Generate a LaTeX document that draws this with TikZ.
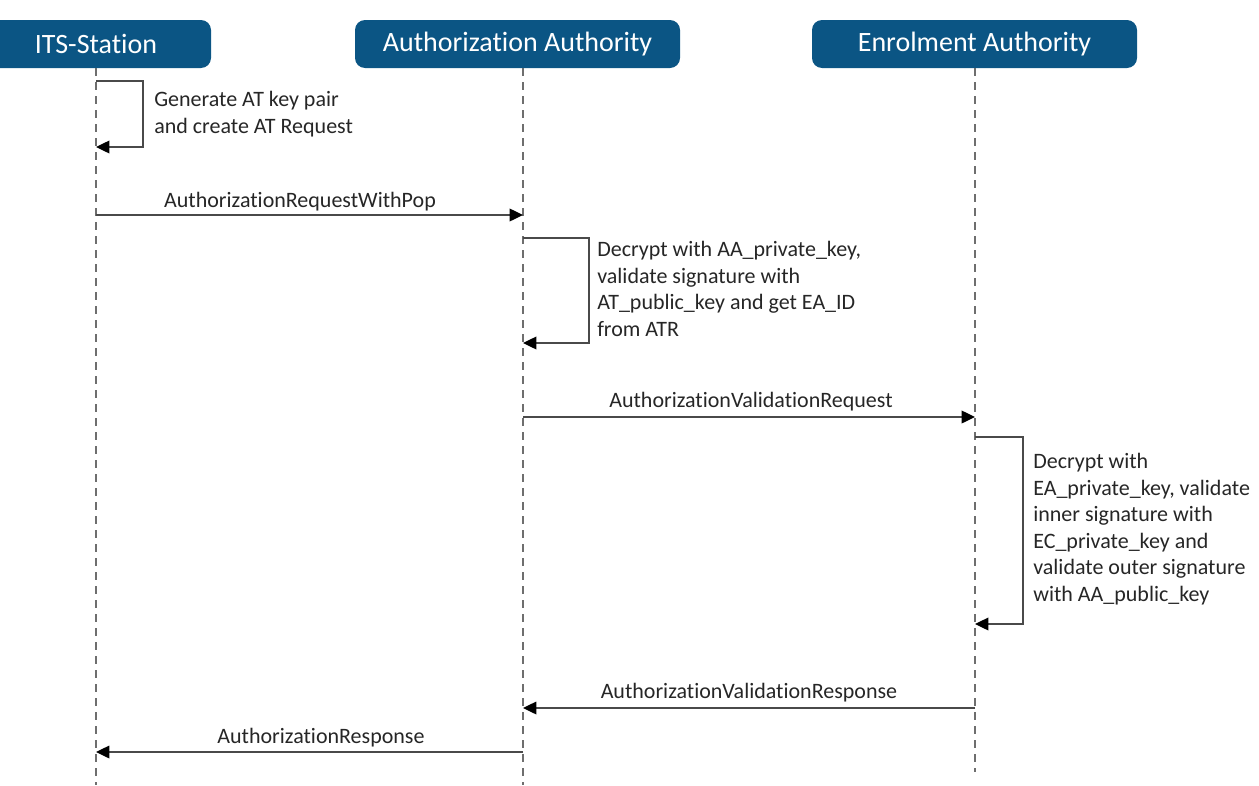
\documentclass[tikz,border=0pt]{standalone}
\usepackage{fontspec}
\setmainfont{Carlito}[Ligatures=NoCommon]
\usetikzlibrary{arrows.meta}
\definecolor{hdrblue}{HTML}{0B5584}
\definecolor{txt}{HTML}{262626}
\definecolor{lifegray}{HTML}{6E6E6E}
\definecolor{msgcol}{HTML}{4A4A4A}
\tikzset{
  header/.style={fill=hdrblue, rounded corners=7.5pt, text=white, minimum height=36pt,
    inner sep=0pt, font=\fontsize{21}{25}\selectfont},
  lifeline/.style={draw=lifegray, line width=1.2pt, dash pattern=on 6pt off 4.5pt},
  msg/.style={draw=msgcol, line width=1pt, -{Triangle[length=10pt,width=9.5pt,color=black]}},
  msglabel/.style={text=txt, font=\fontsize{16.5}{20}\selectfont, anchor=base, inner sep=0pt},
  note/.style={text=txt, font=\fontsize{16.5}{19.9}\selectfont, anchor=west, align=left, inner sep=0pt}
}
\begin{document}
\begin{tikzpicture}[x=0.75pt,y=-0.75pt]
\path[use as bounding box] (0,0) rectangle (1259,785);
\clip (0,0) rectangle (1259,785);

% headers
\node[header, minimum width=172.5pt] (its) at (96,44) {ITS-Station};
\node[header, minimum width=243.75pt] (aa) at (517.5,44) {Authorization Authority};
\node[header, minimum width=243.75pt] (ea) at (974.5,44) {Enrolment Authority};

% lifeline ends
\coordinate (itsEnd) at (96,785);
\coordinate (aaEnd) at (523,785);
\coordinate (eaEnd) at (975,772);
\draw[lifeline] (its.south -| itsEnd) -- (itsEnd);
\draw[lifeline] (its.south -| aaEnd) -- (aaEnd);
\draw[lifeline] (its.south -| eaEnd) -- (eaEnd);

% self message 1
\coordinate (its1) at (96,81);
\coordinate (its2) at (96,147);
\draw[msg] (its1) -- (143,81) -- (143,147) -- (its2);
\node[note] (n1) at (154,114) {Generate AT key pair\\and create AT Request};

% AuthorizationRequestWithPop
\coordinate (its3) at (96,215);
\coordinate (aa3) at (523,215);
\draw[msg] (its3) -- (aa3);
\node[msglabel] (l1) at (300,207) {AuthorizationRequestWithPop};

% self message 2
\coordinate (aa4) at (523,238);
\coordinate (aa5) at (523,343);
\draw[msg] (aa4) -- (589,238) -- (589,343) -- (aa5);
\node[note] (n2) at (597,289) {Decrypt with AA\_private\_key,\\validate signature with\\AT\_public\_key and get EA\_ID\\from ATR};

% AuthorizationValidationRequest
\coordinate (aa6) at (523,417);
\coordinate (ea6) at (975,417);
\draw[msg] (aa6) -- (ea6);
\node[msglabel] (l2) at (751,407) {AuthorizationValidationRequest};

% self message 3
\coordinate (ea7) at (975,437);
\coordinate (ea8) at (975,624);
\draw[msg] (ea7) -- (1023,437) -- (1023,624) -- (ea8);
\node[note] (n3) at (1033,529) {Decrypt with\\EA\_private\_key, validate\\inner signature with\\EC\_private\_key and\\validate outer signature\\with AA\_public\_key};

% AuthorizationValidationResponse
\coordinate (ea9) at (975,708);
\coordinate (aa9) at (523,708);
\draw[msg] (ea9) -- (aa9);
\node[msglabel] (l3) at (749,698) {AuthorizationValidationResponse};

% AuthorizationResponse
\coordinate (aa10) at (523,752);
\coordinate (its10) at (96,752);
\draw[msg] (aa10) -- (its10);
\node[msglabel] (l4) at (321,743) {AuthorizationResponse};
\end{tikzpicture}
\end{document}
